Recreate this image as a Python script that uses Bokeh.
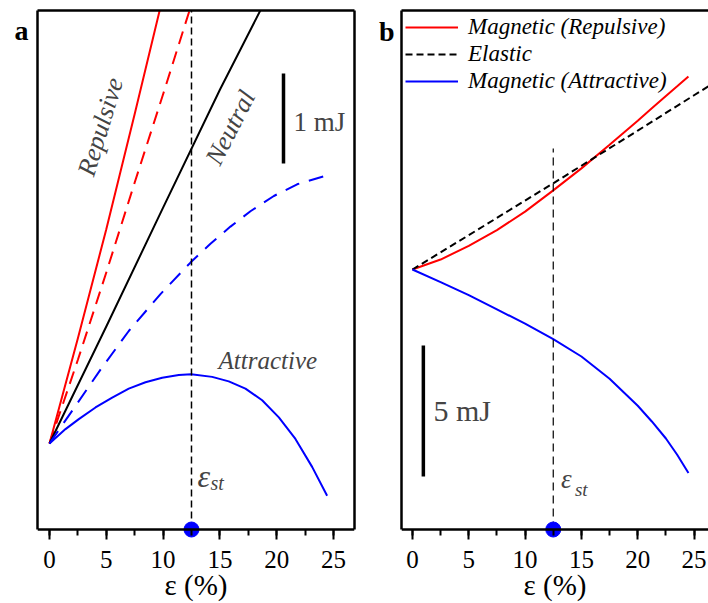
from bokeh.plotting import figure
from bokeh.layouts import row
from bokeh.models import (Range1d, LinearAxis, SingleIntervalTicker, FixedTicker,
                          Span, Label, Legend, LegendItem)
from bokeh.embed import file_html
from bokeh.resources import INLINE

FONT = "'Liberation Serif', 'Times New Roman', serif"

# ---------------- data: panel a (energy, mJ, vs strain %) ----------------
rep_solid_x = [0, 2.5, 5, 7.5, 10]
rep_solid_y = [0, 1.17, 2.38, 3.66, 4.97]
rep_dash_x = [0, 2.5, 5, 7.5, 10, 12.5]
rep_dash_y = [0, 0.93, 1.90, 2.90, 3.88, 4.88]
neutral_x = [0, 5, 10, 15, 19]
neutral_y = [0, 1.30, 2.62, 3.93, 4.92]
attr_dash_x = [0, 2.14, 4.49, 6.98, 9.77, 12.41, 14.17, 15.93, 17.69, 19.75, 21.80, 24.45]
attr_dash_y = [0, 0.39, 0.82, 1.25, 1.66, 2.01, 2.22, 2.41, 2.58, 2.75, 2.88, 2.98]
attr_solid_x = [0, 1.41, 2.58, 4.05, 5.52, 6.98, 8.45, 9.92, 11.38, 12.47, 14.32,
                15.78, 17.25, 18.72, 20.19, 21.65, 23.12, 24.44]
attr_solid_y = [0, 0.16, 0.27, 0.40, 0.51, 0.61, 0.68, 0.73, 0.76, 0.77, 0.74,
                0.69, 0.61, 0.48, 0.29, 0.05, -0.26, -0.58]

# ---------------- data: panel b ----------------
strain_b = [0, 2.5, 5, 7.5, 10, 12.5, 15, 17.5, 20, 21.25, 22.5, 23.5, 24.5]
mag_rep_b = [0, 0.38, 0.90, 1.50, 2.21, 3.02, 3.86, 4.76, 5.68, 6.15, 6.62, 6.99, 7.37]
mag_att_b = [0, -0.48, -0.98, -1.52, -2.07, -2.66, -3.32, -4.17, -5.20, -5.80, -6.45, -7.07, -7.77]
elastic_x = [0, 5, 10, 12.5, 15, 20, 25, 27]
elastic_y = [0, 1.31, 2.63, 3.29, 3.96, 5.30, 6.65, 7.19]

EPS_ST = 12.5            # critical strain (%)
x_ticks_interval = 5
scale_a = [3.11, 4.11]   # 1 mJ scale bar (panel a)
scale_b = [-7.90, -2.90] # 5 mJ scale bar (panel b)
panel_tags = ["a", "b"]

# axis geometry (data units)
XR_A = (-1.056, 26.85)
YR_A = (-1.067, 4.811)
YB_A = -0.956            # level of the drawn x-axis line in panel a
TAG_A = 4.59
XR_B = (-0.97, 26.28)
YR_B = (-10.305, 9.885)
YB_B = -9.924
TAG_B = 9.08


def make_fig(width, xr, yr, yb, left, right, right_border, tag, tag_y, tag_standoff):
    p = figure(width=width, height=603, x_range=Range1d(*xr), y_range=Range1d(*yr),
               output_backend="svg", toolbar_location=None,
               min_border_left=left, min_border_right=right,
               min_border_top=10, min_border_bottom=64)
    p.grid.visible = False
    p.outline_line_color = None
    p.background_fill_color = "white"
    p.border_fill_color = "white"

    xa = p.xaxis[0]
    xa.ticker = SingleIntervalTicker(interval=x_ticks_interval, num_minor_ticks=2)
    xa.axis_line_color = None
    xa.major_tick_in = 10
    xa.major_tick_out = 0
    xa.minor_tick_in = 10
    xa.minor_tick_out = -4
    xa.major_tick_line_width = 2
    xa.minor_tick_line_width = 2
    xa.major_tick_line_color = "black"
    xa.minor_tick_line_color = "black"
    xa.major_label_text_font = FONT
    xa.major_label_text_font_size = "25px"
    xa.major_label_text_color = "black"
    xa.major_label_standoff = 11
    xa.axis_label = "ε (%)"
    xa.axis_label_text_font = FONT
    xa.axis_label_text_font_size = "29px"
    xa.axis_label_text_font_style = "normal"
    xa.axis_label_text_color = "black"
    xa.axis_label_standoff = -2

    def border_axis(ax):
        ax.ticker = FixedTicker(ticks=[])
        ax.major_tick_line_color = None
        ax.minor_tick_line_color = None
        ax.major_label_text_font_size = "0px"
        ax.axis_line_width = 2.5
        ax.axis_line_color = "black"

    # left frame line; its single tick label carries the panel tag
    ya = p.yaxis[0]
    ya.ticker = FixedTicker(ticks=[tag_y])
    ya.major_label_overrides = {tag_y: tag}
    ya.major_tick_line_color = None
    ya.minor_tick_line_color = None
    ya.major_tick_out = 0
    ya.major_tick_in = 0
    ya.major_label_standoff = tag_standoff
    ya.major_label_text_font = FONT
    ya.major_label_text_font_style = "bold"
    ya.major_label_text_font_size = "28px"
    ya.major_label_text_color = "black"
    ya.axis_line_width = 2.5
    ya.axis_line_color = "black"
    ya.bounds = (yb, yr[1])

    top = LinearAxis()
    border_axis(top)
    p.add_layout(top, "above")

    if right_border:
        ra = LinearAxis()
        border_axis(ra)
        ra.bounds = (yb, yr[1])
        p.add_layout(ra, "right")

    p.add_layout(Span(location=yb, dimension="width", line_color="black", line_width=2.5))
    return p


# ================= panel a =================
pa = make_fig(375, XR_A, YR_A, YB_A, 37, 21, True, panel_tags[0], TAG_A, 9)
pa.line(rep_solid_x, rep_solid_y, line_color="#ff0000", line_width=2)
pa.line(rep_dash_x, rep_dash_y, line_color="#ff0000", line_width=2, line_dash="13 8")
pa.line(neutral_x, neutral_y, line_color="black", line_width=2)
pa.line(attr_dash_x, attr_dash_y, line_color="#0000ff", line_width=2, line_dash="15 10")
pa.line(attr_solid_x, attr_solid_y, line_color="#0000ff", line_width=2)
pa.segment(x0=[EPS_ST], y0=[YB_A], x1=[EPS_ST], y1=[YR_A[1]], line_color="black",
           line_width=1.5, line_dash="7 4")
pa.segment(x0=[20.6], y0=[scale_a[0]], x1=[20.6], y1=[scale_a[1]], line_color="black", line_width=3.5)
pa.scatter([EPS_ST], [YB_A], size=15, color="#0000ff")

pa.add_layout(Label(x=4.49, y=3.52, text="Repulsive", text_font=FONT, text_font_style="italic",
                    text_font_size="26px", angle=73, angle_units="deg",
                    text_align="center", text_baseline="middle"))
pa.add_layout(Label(x=15.93, y=3.51, text="Neutral", text_font=FONT, text_font_style="italic",
                    text_font_size="26px", angle=63, angle_units="deg",
                    text_align="center", text_baseline="middle"))
pa.add_layout(Label(x=21.48, y=3.57, text="1 mJ", text_font=FONT, text_font_size="27px",
                    text_align="left", text_baseline="middle"))
pa.add_layout(Label(x=14.88, y=0.92, text="Attractive", text_font=FONT, text_font_style="italic",
                    text_font_size="25px", text_align="left", text_baseline="alphabetic"))
pa.add_layout(Label(x=13.03, y=-0.356, text="ε", text_font=FONT, text_font_style="italic",
                    text_font_size="32px", text_align="left", text_baseline="alphabetic"))
pa.add_layout(Label(x=14.17, y=-0.444, text="st", text_font=FONT, text_font_style="italic",
                    text_font_size="20px", text_align="left", text_baseline="alphabetic"))

# ================= panel b =================
pb = make_fig(333, XR_B, YR_B, YB_B, 25, 0, False, panel_tags[1], TAG_B, 7)
r_rep = pb.line(strain_b, mag_rep_b, line_color="#ff0000", line_width=2)
r_el = pb.line(elastic_x, elastic_y, line_color="black", line_width=2, line_dash="7 4")
r_att = pb.line(strain_b, mag_att_b, line_color="#0000ff", line_width=2)
pb.segment(x0=[EPS_ST], y0=[YB_B], x1=[EPS_ST], y1=[4.62], line_color="black",
           line_width=1.2, line_dash="8 5")
pb.segment(x0=[0.97], y0=[scale_b[0]], x1=[0.97], y1=[scale_b[1]], line_color="black", line_width=3.5)
pb.scatter([EPS_ST], [YB_B], size=15, color="#0000ff")

pb.add_layout(Label(x=1.86, y=-5.38, text="5 mJ", text_font=FONT, text_font_size="30px",
                    text_align="left", text_baseline="middle"))
pb.add_layout(Label(x=13.19, y=-7.98, text="ε", text_font=FONT, text_font_style="italic",
                    text_font_size="27px", text_align="left", text_baseline="alphabetic"))
pb.add_layout(Label(x=14.42, y=-8.40, text="st", text_font=FONT, text_font_style="italic",
                    text_font_size="19px", text_align="left", text_baseline="alphabetic"))

leg = Legend(items=[LegendItem(label="Magnetic (Repulsive)", renderers=[r_rep]),
                    LegendItem(label="Elastic", renderers=[r_el]),
                    LegendItem(label="Magnetic (Attractive)", renderers=[r_att])],
             location="top_left")
leg.label_text_font = FONT
leg.label_text_font_style = "italic"
leg.label_text_font_size = "23px"
leg.label_text_color = "black"
leg.glyph_width = 53
leg.glyph_height = 20
leg.label_standoff = 10
leg.spacing = 1
leg.padding = 0
leg.margin = 4
leg.border_line_color = None
leg.background_fill_alpha = 0
pb.add_layout(leg)

layout = row(pa, pb)
open("out.html", "w").write(file_html(layout, INLINE))
